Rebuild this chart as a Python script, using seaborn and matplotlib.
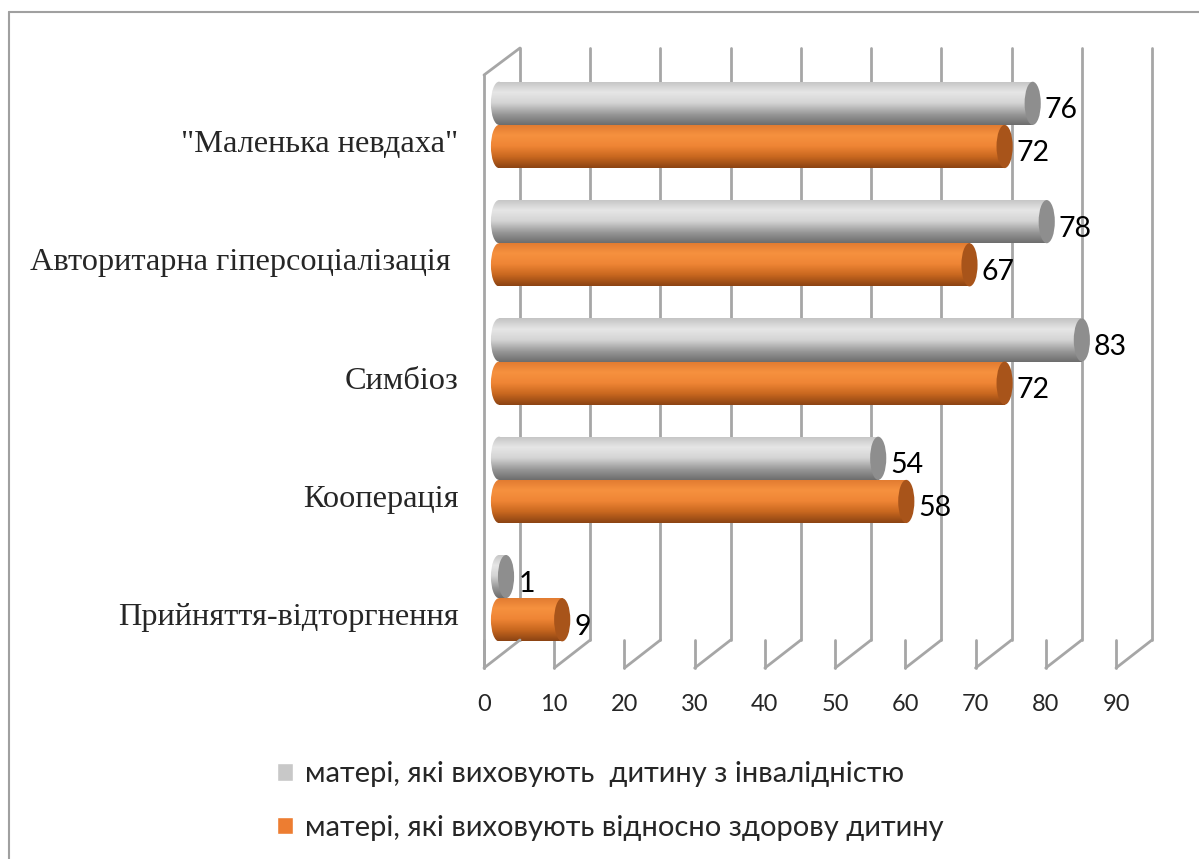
import matplotlib
matplotlib.use('Agg')
import matplotlib.pyplot as plt
import matplotlib.transforms as mtransforms
from matplotlib.colors import LinearSegmentedColormap
from matplotlib.patches import Ellipse, Patch
from matplotlib.lines import Line2D
import numpy as np
import pandas as pd
import seaborn as sns

# data
categories = ['"Маленька невдаха"', 'Авторитарна гіперсоціалізація ', 'Симбіоз',
              'Кооперація', 'Прийняття-відторгнення']
series_names = ['матері, які виховують  дитину з інвалідністю',
                'матері, які виховують відносно здорову дитину']
disabled_values = [76, 78, 83, 54, 1]
healthy_values = [72, 67, 72, 58, 9]
x_ticks = list(range(0, 100, 10))

df = pd.DataFrame({
    'category': categories * 2,
    'group': [series_names[0]] * len(categories) + [series_names[1]] * len(categories),
    'value': disabled_values + healthy_values,
})

sns.set_style('white')
plt.rcParams['font.family'] = ['Lato', 'DejaVu Sans']

base_colors = ['#cfcfcf', '#ef8535']
cap_colors = ['#8e8e8e', '#a8541a']
body_maps = [
    LinearSegmentedColormap.from_list('g', ['#c4c4c4', '#e6e6e6', '#d4d4d4', '#9a9a9a', '#6e6e6e']),
    LinearSegmentedColormap.from_list('o', ['#e07a30', '#f6913f', '#ef8535', '#c8671f', '#8c4413']),
]

W, H = 1199, 859
fig = plt.figure(figsize=(W / 100, H / 100), dpi=100)
ax_left, ax_right, ax_top, ax_bottom = 499, 1131, 48, 668
ax = fig.add_axes([ax_left / W, 1 - ax_bottom / H, (ax_right - ax_left) / W, (ax_bottom - ax_top) / H])

sns.barplot(data=df, y='category', x='value', hue='group', hue_order=series_names,
            palette=base_colors, width=0.73, orient='h', ax=ax, legend=False, zorder=3)

ax.set_xlim(0, 90)
ax.set_ylim(4.59, -0.65)
ax.set_xlabel('')
ax.set_ylabel('')
for s in ax.spines.values():
    s.set_visible(False)

# pseudo 3D walls
grid_c = '#a6a6a6'
front = mtransforms.ScaledTranslation(-15 / 100, 0, fig.dpi_scale_trans)
back = mtransforms.ScaledTranslation(21 / 100, 0, fig.dpi_scale_trans)
xt = ax.get_xaxis_transform()
floor_back = (ax_bottom - 640) / (ax_bottom - ax_top)
wall_top = (ax_bottom - 75) / (ax_bottom - ax_top)
for t in x_ticks:
    ax.plot([t, t], [floor_back, 1.0], transform=xt + back, color=grid_c, lw=2, zorder=1, clip_on=False)
    ax.plot([t, t], [0, floor_back], transform=xt + front, color=grid_c, lw=2, zorder=1, clip_on=False)
# floor diagonals: from front to back
for t in x_ticks:
    p0 = (xt + front).transform((t, 0))
    p1 = (xt + back).transform((t, floor_back))
    fig.add_artist(Line2D([p0[0] / W, p1[0] / W], [p0[1] / H, p1[1] / H], color=grid_c, lw=2, zorder=1))
# left wall
ax.plot([0, 0], [0, wall_top], transform=xt + front, color=grid_c, lw=2, zorder=1, clip_on=False)
p0 = (xt + front).transform((0, wall_top))
p1 = (xt + back).transform((0, 1.0))
fig.add_artist(Line2D([p0[0] / W, p1[0] / W], [p0[1] / H, p1[1] / H], color=grid_c, lw=2, zorder=1))

# cylinder shading on the seaborn bars
cap_w = 2.3
grad = np.linspace(0, 1, 64).reshape(-1, 1)
for i, cont in enumerate(ax.containers):
    for bar, val in zip(cont, [disabled_values, healthy_values][i]):
        x, y = bar.get_x(), bar.get_y()
        w, h = bar.get_width(), bar.get_height()
        yc = y + h / 2
        # rounded near end, shaded like the body
        left_end = Ellipse((x, yc), cap_w, h, facecolor='none', edgecolor='none')
        ax.add_patch(left_end)
        img_l = ax.imshow(grad, cmap=body_maps[i], extent=(x - cap_w, x + cap_w, y + h, y),
                          aspect='auto', zorder=3)
        img_l.set_clip_box(fig.bbox)
        img_l.set_clip_path(left_end)
        img = ax.imshow(grad, cmap=body_maps[i], extent=(x, x + w, y + h, y), aspect='auto', zorder=4)
        img.set_clip_path(bar)
        bar.set_edgecolor('none')
        ax.add_patch(Ellipse((x + w, yc), cap_w, h, facecolor=cap_colors[i], edgecolor='none',
                             zorder=5, clip_on=False))
        ax.annotate(str(val), (x + w + cap_w / 2, yc), xytext=(3, -5), textcoords='offset points',
                    va='center', ha='left', fontsize=20.5, color='black', zorder=6)

ax.set_xlim(0, 90)
ax.set_ylim(4.59, -0.65)

ax.set_xticks(x_ticks)
ax.set_xticklabels([str(t) for t in x_ticks], fontsize=17)
ax.tick_params(axis='x', length=0, pad=19)
for lab in ax.get_xticklabels():
    lab.set_transform(lab.get_transform() + front)
ax.tick_params(axis='y', length=0, pad=29)
down = mtransforms.ScaledTranslation(0, -16 / 100, fig.dpi_scale_trans)
for lab in ax.get_yticklabels():
    lab.set_fontfamily(['Liberation Serif', 'DejaVu Serif'])
    lab.set_fontsize(23.3)
    lab.set_transform(lab.get_transform() + down)

# outer frame (clipped by the image edge)
fig.add_artist(Line2D([9 / W, 9 / W], [0, 1 - 12 / H], color='#a0a0a0', lw=1.5))
fig.add_artist(Line2D([9 / W, 1], [1 - 12 / H, 1 - 12 / H], color='#a0a0a0', lw=1.5))

handles = [Patch(facecolor='#c8c8c8'), Patch(facecolor='#ed7d31')]
fig.legend(handles, series_names, loc='center left', bbox_to_anchor=(277 / W, 1 - 801 / H),
           frameon=False, fontsize=21, handlelength=0.55, handleheight=0.55, handletextpad=0.4,
           labelspacing=0.95, borderpad=0, borderaxespad=0)

fig.savefig('out.png', dpi=100)
